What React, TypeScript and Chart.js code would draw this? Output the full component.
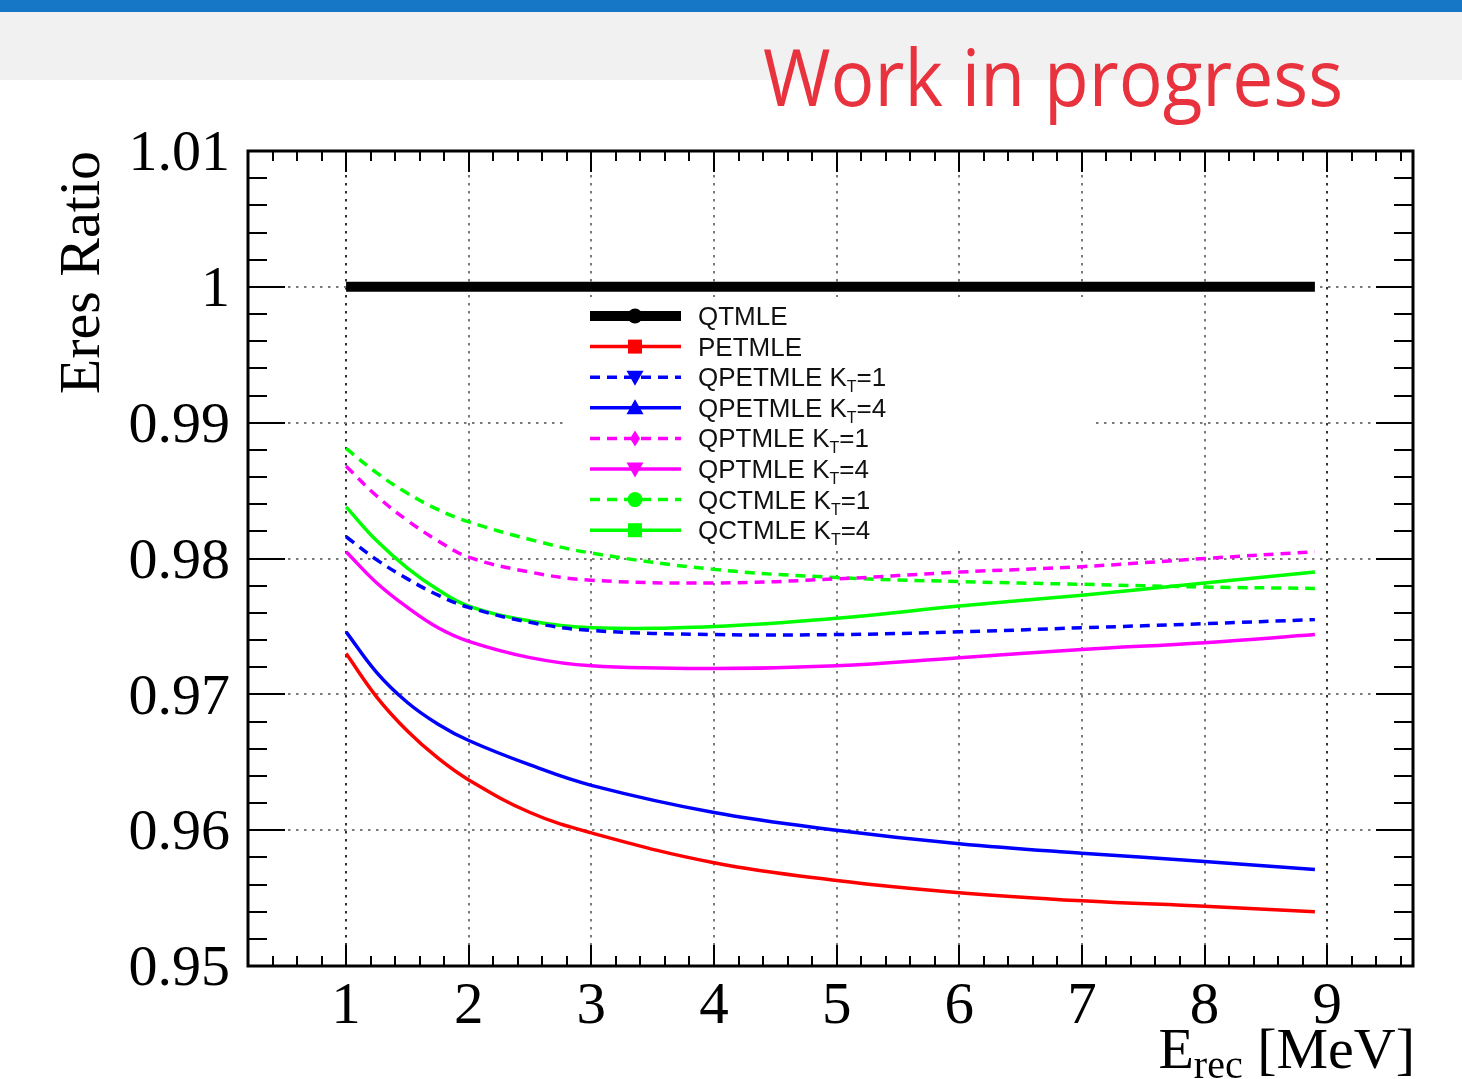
import React, { useEffect, useRef } from 'react';
import { Chart, registerables } from 'chart.js';

Chart.register(...registerables);

// ---------- data ----------
const energies = [1, 1.25, 1.5, 1.75, 2, 2.5, 3, 4, 5, 6, 7, 8, 8.9];
const qtmle = [1, 1, 1, 1, 1, 1, 1, 1, 1, 1, 1, 1, 1];
const petmle = [0.973, 0.9698, 0.9673, 0.9653, 0.9637, 0.9613, 0.9598, 0.9576, 0.9563, 0.9554, 0.9548, 0.9544, 0.954];
const qpetmleKT1 = [0.9816, 0.9799, 0.9785, 0.9773, 0.9764, 0.9753, 0.9747, 0.9744, 0.9744, 0.9746, 0.9749, 0.9752, 0.9755];
const qpetmleKT4 = [0.9746, 0.9716, 0.9694, 0.9678, 0.9666, 0.9648, 0.9633, 0.9613, 0.96, 0.959, 0.9583, 0.9577, 0.9571];
const qptmleKT1 = [0.9868, 0.9846, 0.9828, 0.9813, 0.9801, 0.979, 0.9784, 0.9782, 0.9785, 0.979, 0.9794, 0.98, 0.9805];
const qptmleKT4 = [0.9805, 0.9782, 0.9764, 0.9749, 0.9739, 0.9727, 0.9721, 0.9719, 0.9721, 0.9727, 0.9733, 0.9738, 0.9744];
const qctmleKT1 = [0.9881, 0.9863, 0.9848, 0.9836, 0.9827, 0.9814, 0.9804, 0.9792, 0.9786, 0.9783, 0.9781, 0.9779, 0.9778];
const qctmleKT4 = [0.9838, 0.9813, 0.9793, 0.9777, 0.9765, 0.9754, 0.9749, 0.975, 0.9756, 0.9765, 0.9773, 0.9782, 0.979];

const seriesLabels = [
  'QTMLE',
  'PETMLE',
  'QPETMLE K_T=1',
  'QPETMLE K_T=4',
  'QPTMLE K_T=1',
  'QPTMLE K_T=4',
  'QCTMLE K_T=1',
  'QCTMLE K_T=4',
];
const seriesValues = [qtmle, petmle, qpetmleKT1, qpetmleKT4, qptmleKT1, qptmleKT4, qctmleKT1, qctmleKT4];

const xTickValues = [1, 2, 3, 4, 5, 6, 7, 8, 9];
const yTickValues = [0.95, 0.96, 0.97, 0.98, 0.99, 1.0, 1.01];

const headerText = 'Work in progress';
const yTitle = 'Eres Ratio';
const xTitleMain = 'E';
const xTitleSub = 'rec';
const xTitleRest = ' [MeV]';

// ---------- styles ----------
const seriesStyles = [
  { color: '#000000', width: 10, dash: [] as number[], marker: 'circle' },
  { color: '#ff0000', width: 3.5, dash: [], marker: 'square' },
  { color: '#0000ff', width: 3.5, dash: [10, 7], marker: 'triDown' },
  { color: '#0000ff', width: 3.5, dash: [], marker: 'triUp' },
  { color: '#ff00ff', width: 3.5, dash: [10, 7], marker: 'diamond' },
  { color: '#ff00ff', width: 3.5, dash: [], marker: 'triDown' },
  { color: '#00ff00', width: 3.5, dash: [10, 7], marker: 'circle' },
  { color: '#00ff00', width: 3.5, dash: [], marker: 'square' },
];

const SERIF = '"Liberation Serif", "DejaVu Serif", serif';
const SANS = '"Liberation Sans", Arial, sans-serif';

function drawMarker(ctx: CanvasRenderingContext2D, kind: string, x: number, y: number, color: string) {
  ctx.save();
  ctx.fillStyle = color;
  ctx.beginPath();
  if (kind === 'circle') {
    ctx.arc(x, y, 7.5, 0, Math.PI * 2);
  } else if (kind === 'square') {
    ctx.rect(x - 7, y - 7, 14, 14);
  } else if (kind === 'triUp') {
    ctx.moveTo(x, y - 8.5);
    ctx.lineTo(x + 8.5, y + 6.5);
    ctx.lineTo(x - 8.5, y + 6.5);
    ctx.closePath();
  } else if (kind === 'triDown') {
    ctx.moveTo(x, y + 8.5);
    ctx.lineTo(x + 8.5, y - 6.5);
    ctx.lineTo(x - 8.5, y - 6.5);
    ctx.closePath();
  } else if (kind === 'diamond') {
    ctx.moveTo(x, y - 8);
    ctx.lineTo(x + 5, y);
    ctx.lineTo(x, y + 8);
    ctx.lineTo(x - 5, y);
    ctx.closePath();
  }
  ctx.fill();
  ctx.restore();
}

const rootPlugin = {
  id: 'rootStyle',
  beforeDraw(chart: any) {
    const ctx: CanvasRenderingContext2D = chart.ctx;
    ctx.save();
    ctx.fillStyle = '#1677c6';
    ctx.fillRect(0, 0, chart.width, 12);
    ctx.fillStyle = '#f1f1f1';
    ctx.fillRect(0, 12, chart.width, 68);
    ctx.font = '78px "Open Sans", "Noto Sans", sans-serif';
    const w = ctx.measureText(headerText).width;
    ctx.translate(763, 106);
    ctx.scale(580 / w, 1);
    ctx.fillStyle = '#e8333f';
    ctx.textBaseline = 'alphabetic';
    ctx.textAlign = 'left';
    ctx.fillText(headerText, 0, 0);
    ctx.restore();
  },
  beforeDatasetsDraw(chart: any) {
    const ctx: CanvasRenderingContext2D = chart.ctx;
    ctx.save();
    ctx.fillStyle = '#ffffff';
    ctx.fillRect(566, 297, 528, 250);
    ctx.restore();
  },
  afterDatasetsDraw(chart: any) {
    const ctx: CanvasRenderingContext2D = chart.ctx;
    const a = chart.chartArea;
    const xs = chart.scales.x;
    const ys = chart.scales.y;
    ctx.save();
    // ticks
    ctx.strokeStyle = '#000';
    ctx.lineWidth = 2;
    ctx.setLineDash([]);
    ctx.beginPath();
    for (let k = 1; k < 60; k++) {
      const v = k * 0.2;
      if (v <= xs.min + 1e-6 || v >= xs.max - 1e-6) continue;
      const px = Math.round(xs.getPixelForValue(v));
      const major = Math.abs(v - Math.round(v)) < 1e-6;
      const len = major ? 21 : 10;
      ctx.moveTo(px, a.bottom);
      ctx.lineTo(px, a.bottom - len);
      ctx.moveTo(px, a.top);
      ctx.lineTo(px, a.top + len);
    }
    for (let k = 0; k <= 40; k++) {
      const v = ys.min + k * 0.002;
      if (v > ys.max + 1e-9) break;
      const py = Math.round(ys.getPixelForValue(v));
      const major = k % 5 === 0;
      const len = major ? 37 : 19;
      ctx.moveTo(a.left, py);
      ctx.lineTo(a.left + len, py);
      ctx.moveTo(a.right, py);
      ctx.lineTo(a.right - len, py);
    }
    ctx.stroke();
    // frame
    ctx.lineWidth = 3;
    ctx.strokeRect(a.left, a.top, a.right - a.left, a.bottom - a.top);

    // legend
    const ds = chart.data.datasets;
    ctx.textBaseline = 'alphabetic';
    ctx.textAlign = 'left';
    for (let i = 0; i < ds.length; i++) {
      const d = ds[i];
      const st = seriesStyles[i];
      const y = 316 + i * 30.6;
      ctx.save();
      ctx.strokeStyle = d.borderColor;
      ctx.lineWidth = d.borderWidth;
      ctx.setLineDash(d.borderDash || []);
      ctx.beginPath();
      ctx.moveTo(590, y);
      ctx.lineTo(681, y);
      ctx.stroke();
      ctx.restore();
      drawMarker(ctx, st.marker, 635, y, d.borderColor);
      // label with K_T subscript
      const label: string = d.label;
      const base = y + 9;
      let x = 698;
      ctx.fillStyle = '#111';
      const parts = label.split('_T');
      ctx.font = `26px ${SANS}`;
      ctx.fillText(parts[0], x, base);
      x += ctx.measureText(parts[0]).width;
      if (parts.length > 1) {
        ctx.font = `16px ${SANS}`;
        ctx.fillText('T', x, base + 6);
        x += ctx.measureText('T').width;
        ctx.font = `26px ${SANS}`;
        ctx.fillText(parts[1], x, base);
      }
    }

    // axis titles
    ctx.fillStyle = '#000';
    ctx.save();
    ctx.font = `58px ${SERIF}`;
    ctx.translate(99, a.top);
    ctx.rotate(-Math.PI / 2);
    ctx.textAlign = 'right';
    ctx.textBaseline = 'alphabetic';
    ctx.fillText(yTitle, 0, 0);
    ctx.restore();

    ctx.save();
    ctx.textAlign = 'left';
    ctx.textBaseline = 'alphabetic';
    ctx.font = `58px ${SERIF}`;
    const wMain = ctx.measureText(xTitleMain).width;
    const wRest = ctx.measureText(xTitleRest).width;
    ctx.font = `40px ${SERIF}`;
    const wSub = ctx.measureText(xTitleSub).width;
    let tx = a.right + 2 - (wMain + wSub + wRest);
    ctx.font = `58px ${SERIF}`;
    ctx.fillText(xTitleMain, tx, 1068);
    tx += wMain;
    ctx.font = `40px ${SERIF}`;
    ctx.fillText(xTitleSub, tx, 1078);
    tx += wSub;
    ctx.font = `58px ${SERIF}`;
    ctx.fillText(xTitleRest, tx, 1068);
    ctx.restore();

    ctx.restore();
  },
};

export default function App() {
  const ref = useRef<HTMLCanvasElement>(null);
  useEffect(() => {
    const canvas = ref.current;
    if (!canvas) return;
    const datasets = seriesLabels.map((label, i) => ({
      label,
      data: energies.map((x, j) => ({ x, y: seriesValues[i][j] })),
      borderColor: seriesStyles[i].color,
      backgroundColor: seriesStyles[i].color,
      borderWidth: seriesStyles[i].width,
      borderDash: seriesStyles[i].dash,
      pointRadius: 0,
      pointHoverRadius: 0,
      fill: false,
      tension: 0.4,
      borderCapStyle: 'butt' as const,
    }));
    const chart = new Chart(canvas, {
      type: 'line',
      data: { datasets },
      options: {
        animation: false,
        responsive: false,
        devicePixelRatio: 1,
        events: [],
        layout: { padding: { left: 0, top: 151, right: 49, bottom: 0 } },
        plugins: {
          legend: { display: false },
          tooltip: { enabled: false },
          title: { display: false },
        },
        scales: {
          x: {
            type: 'linear',
            min: 0.2,
            max: 9.7,
            afterBuildTicks: (scale: any) => {
              scale.ticks = xTickValues.map((v) => ({ value: v }));
            },
            afterFit: (scale: any) => {
              scale.height = 113;
            },
            ticks: {
              autoSkip: false,
              maxRotation: 0,
              padding: 6,
              color: '#000',
              font: { family: SERIF, size: 59 },
              callback: (v: any) => String(v),
            },
            grid: {
              drawTicks: false,
              lineWidth: 2,
              color: (c: any) => (c.tick && (c.tick.value === 1 || c.tick.value === 9) ? '#333' : '#7a7a7a'),
            },
            border: { display: false, dash: [2.5, 5.5] },
          },
          y: {
            type: 'linear',
            min: 0.95,
            max: 1.01,
            afterBuildTicks: (scale: any) => {
              scale.ticks = yTickValues.map((v) => ({ value: v }));
            },
            afterFit: (scale: any) => {
              scale.width = 248;
            },
            ticks: {
              autoSkip: false,
              padding: 18,
              labelOffset: 4,
              color: '#000',
              font: { family: SERIF, size: 58 },
              callback: (v: any) => String(Number(Number(v).toFixed(2))),
            },
            grid: {
              drawTicks: false,
              lineWidth: 2,
              color: '#7a7a7a',
            },
            border: { display: false, dash: [2.5, 5.5] },
          },
        },
      },
      plugins: [rootPlugin],
    });
    return () => chart.destroy();
  }, []);
  return (
    <div style={{ position: 'absolute', left: 0, top: 0, width: 1462, height: 1079, background: '#fff', overflow: 'hidden' }}>
      <canvas ref={ref} width={1462} height={1079} style={{ display: 'block', width: 1462, height: 1079 }} />
    </div>
  );
}
